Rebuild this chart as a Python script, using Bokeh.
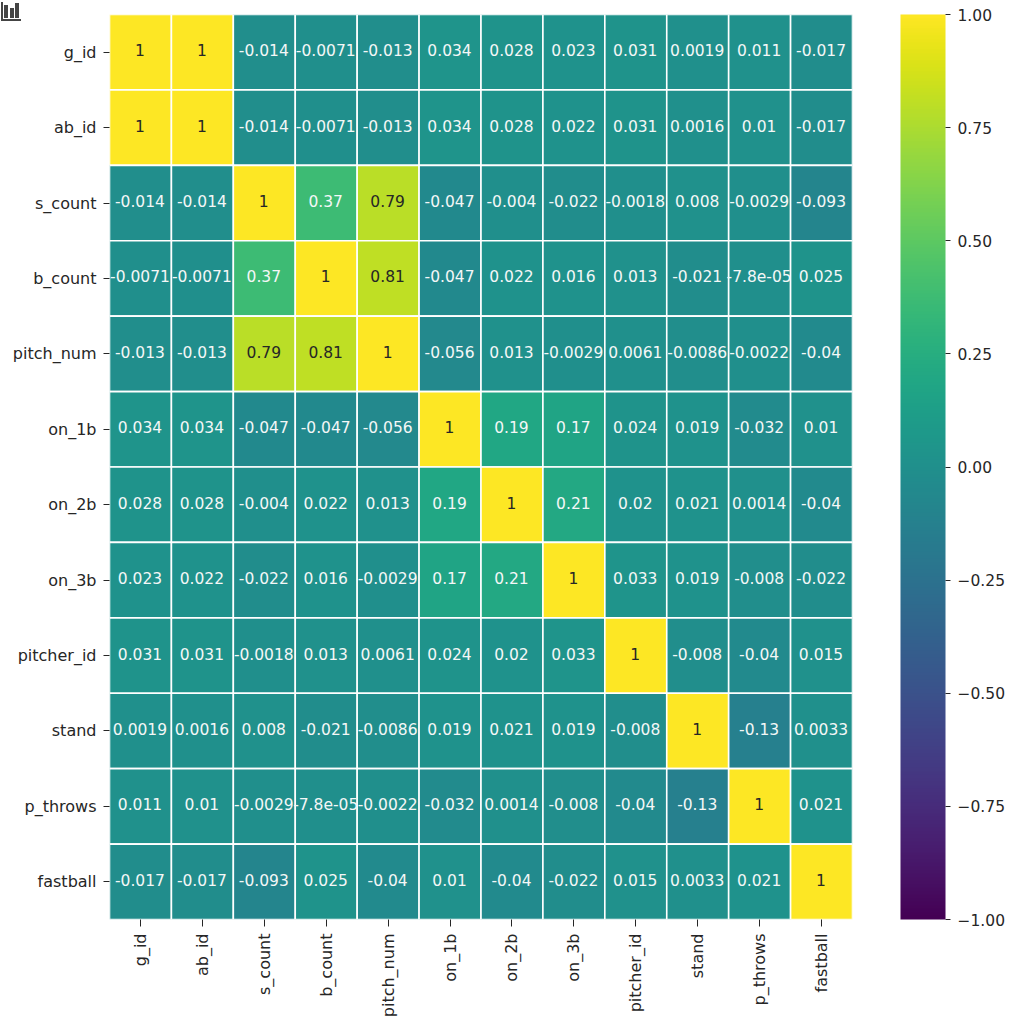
from bokeh.plotting import figure
from bokeh.models import FactorRange, LinearColorMapper, ColorBar, FixedTicker, ColumnDataSource
from bokeh.palettes import Viridis256
from bokeh.core.properties import value
from bokeh.embed import file_html
from bokeh.resources import INLINE
import math

labels = ["g_id", "ab_id", "s_count", "b_count", "pitch_num", "on_1b", "on_2b", "on_3b",
          "pitcher_id", "stand", "p_throws", "fastball"]

g_id = [1, 1, -.014, -.0071, -.013, .034, .028, .023, .031, .0019, .011, -.017]
ab_id = [1, 1, -.014, -.0071, -.013, .034, .028, .022, .031, .0016, .01, -.017]
s_count = [-.014, -.014, 1, .37, .79, -.047, -.004, -.022, -.0018, .008, -.0029, -.093]
b_count = [-.0071, -.0071, .37, 1, .81, -.047, .022, .016, .013, -.021, -7.8e-05, .025]
pitch_num = [-.013, -.013, .79, .81, 1, -.056, .013, -.0029, .0061, -.0086, -.0022, -.04]
on_1b = [.034, .034, -.047, -.047, -.056, 1, .19, .17, .024, .019, -.032, .01]
on_2b = [.028, .028, -.004, .022, .013, .19, 1, .21, .02, .021, .0014, -.04]
on_3b = [.023, .022, -.022, .016, -.0029, .17, .21, 1, .033, .019, -.008, -.022]
pitcher_id = [.031, .031, -.0018, .013, .0061, .024, .02, .033, 1, -.008, -.04, .015]
stand = [.0019, .0016, .008, -.021, -.0086, .019, .021, .019, -.008, 1, -.13, .0033]
p_throws = [.011, .01, -.0029, -7.8e-05, -.0022, -.032, .0014, -.008, -.04, -.13, 1, .021]
fastball = [-.017, -.017, -.093, .025, -.04, .01, -.04, -.022, .015, .0033, .021, 1]
rows = [g_id, ab_id, s_count, b_count, pitch_num, on_1b, on_2b, on_3b, pitcher_id, stand, p_throws, fastball]

cbar_ticks = [-1, -.75, -.5, -.25, 0, .25, .5, .75, 1]
cbar_labels = ["\u22121.00", "\u22120.75", "\u22120.50", "\u22120.25", "0.00", "0.25", "0.50", "0.75", "1.00"]

INK = "#262626"
FONT = "DejaVu Sans"

xs, ys, vals, txt, cols = [], [], [], [], []
for ylab, row in zip(labels, rows):
    for xlab, v in zip(labels, row):
        xs.append(xlab)
        ys.append(ylab)
        vals.append(v)
        txt.append(f"{v:.2g}")
        cols.append(INK if v > 0.5 else "#f4f7f7")
src = ColumnDataSource(dict(x=xs, y=ys, v=vals, t=txt, c=cols))

mapper = LinearColorMapper(palette=Viridis256, low=-1, high=1)

p = figure(x_range=FactorRange(factors=labels), y_range=FactorRange(factors=labels[::-1]),
           frame_width=743, frame_height=905, output_backend="svg", toolbar_location=None,
           min_border_left=109, min_border_top=14, min_border_bottom=101, min_border_right=10,
           background_fill_color="white", border_fill_color="white")
p.outline_line_color = None
p.grid.visible = False

p.rect("x", "y", width=1, height=1, source=src,
       fill_color={"field": "v", "transform": mapper},
       line_color="white", line_width=1.6)
p.text("x", "y", text="t", source=src, text_color="c", text_align="center", text_baseline="middle",
       text_font=value(FONT), text_font_size=value("15.5px"), y_offset=-2, x_offset=-0.5)

for ax in (p.xaxis[0], p.yaxis[0]):
    ax.axis_line_color = None
    ax.major_tick_line_color = INK
    ax.major_tick_line_width = 1
    ax.major_tick_in = 0
    ax.minor_tick_line_color = None
    ax.major_label_text_color = INK
    ax.major_label_text_font = FONT
    ax.major_label_text_font_size = "16px"
p.xaxis[0].major_tick_out = 7
p.xaxis[0].major_label_standoff = 7
p.yaxis[0].major_tick_out = 6
p.yaxis[0].major_label_standoff = 7
p.xaxis[0].major_label_orientation = math.pi / 2

cb = ColorBar(color_mapper=mapper, ticker=FixedTicker(ticks=cbar_ticks),
              major_label_overrides=dict(zip(cbar_ticks, cbar_labels)),
              width=45, height=905, padding=0, margin=0, location=(48, 0),
              major_tick_in=0, major_tick_out=5, major_tick_line_color=INK,
              minor_tick_line_color=None, bar_line_color=None,
              major_label_text_color=INK, major_label_text_font=FONT,
              major_label_text_font_size="15.5px", label_standoff=7)
p.add_layout(cb, "right")

html = file_html(p, INLINE)

# small chart icon in the corner of the page, outside the plot canvas's drawing frame
icon = ('<svg width="22" height="22" style="position:absolute;left:0;top:0;z-index:5" fill="#444444">'
        '<rect x="1" y="2" width="2" height="19"/><rect x="1" y="19" width="20" height="2"/>'
        '<rect x="4" y="5" width="4" height="13"/><rect x="10" y="8" width="4" height="10"/>'
        '<rect x="15" y="3" width="4" height="15"/></svg>')
at = html.rfind("</body>")
html = html[:at] + icon + html[at:]

open("out.html", "w").write(html)
